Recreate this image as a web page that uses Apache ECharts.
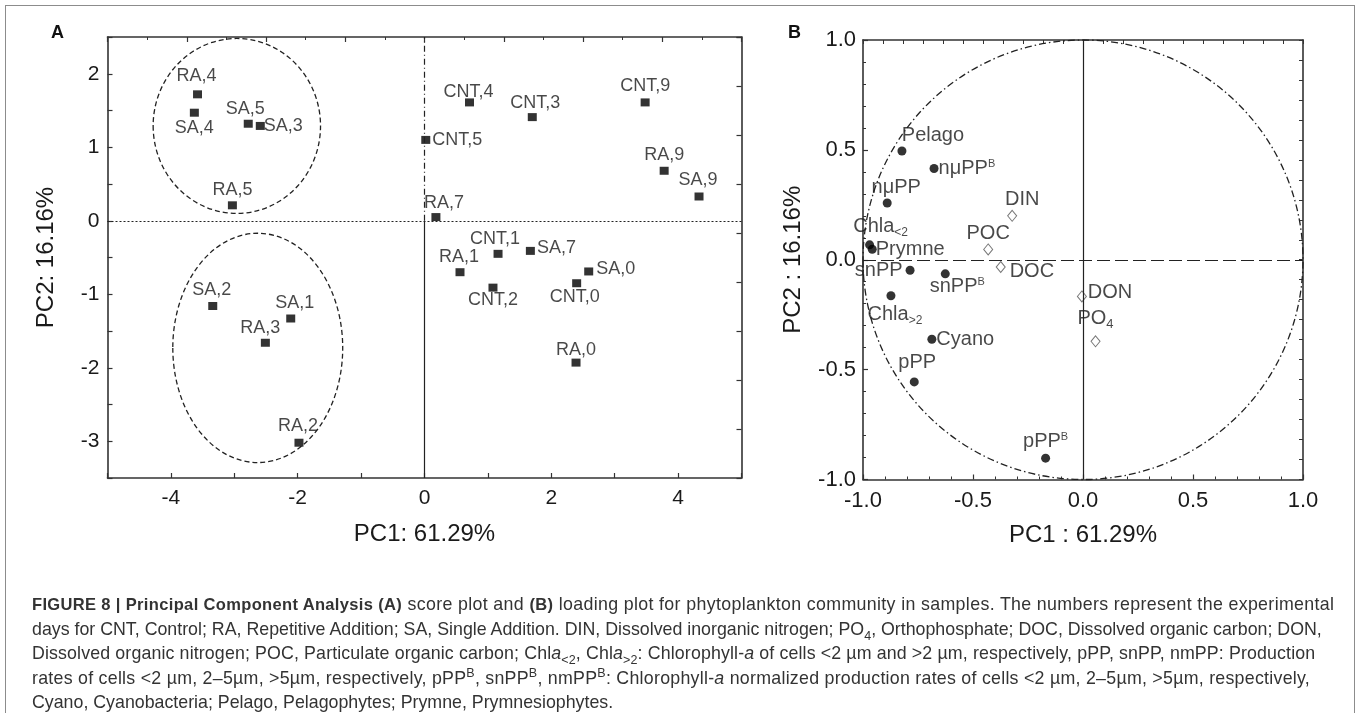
<!DOCTYPE html>
<html>
<head>
<meta charset="utf-8">
<script src="https://cdn.jsdelivr.net/npm/echarts@6/dist/echarts.min.js"></script>
<style>
  html, body { margin: 0; padding: 0; background: #fff; overflow: hidden; }
  #wrap { position: relative; width: 1360px; height: 713px; overflow: hidden; }
  #chart { position: absolute; left: 0; top: 0; width: 1360px; height: 713px; }
  #frame { position: absolute; left: 5px; top: 5px; width: 1348px; height: 730px; border: 1.5px solid #8c8c8c; }
  #caption { position: absolute; left: 32px; top: 592px; font-family: "Liberation Sans", Arial, sans-serif;
    font-size: 17.8px; line-height: 24.5px; color: #333; white-space: nowrap; }
  #caption b { font-size: 16.5px; }
  #caption .l1 { letter-spacing: 0.35px; }
  #caption .l3 { letter-spacing: 0.13px; }
  #caption .l4 { letter-spacing: 0.26px; }
  #caption sub, #caption sup { font-size: 12.5px; line-height: 0; }
</style>
</head>
<body>
<div id="wrap">
  <div id="frame"></div>
  <div id="chart"></div>
  <div id="caption">
    <div class="l1"><b>FIGURE 8 | Principal Component Analysis (A)</b> score plot and <b>(B)</b> loading plot for phytoplankton community in samples. The numbers represent the experimental</div>
    <div>days for CNT, Control; RA, Repetitive Addition; SA, Single Addition. DIN, Dissolved inorganic nitrogen; PO<sub>4</sub>, Orthophosphate; DOC, Dissolved organic carbon; DON,</div>
    <div class="l3">Dissolved organic nitrogen; POC, Particulate organic carbon; Chl<i>a</i><sub>&lt;2</sub>, Chl<i>a</i><sub>&gt;2</sub>: Chlorophyll-<i>a</i> of cells &lt;2 µm and &gt;2 µm, respectively, pPP, snPP, nmPP: Production</div>
    <div class="l4">rates of cells &lt;2 µm, 2–5µm, &gt;5µm, respectively, pPP<sup>B</sup>, snPP<sup>B</sup>, nmPP<sup>B</sup>: Chlorophyll-<i>a</i> normalized production rates of cells &lt;2 µm, 2–5µm, &gt;5µm, respectively,</div>
    <div>Cyano, Cyanobacteria; Pelago, Pelagophytes; Prymne, Prymnesiophytes.</div>
  </div>
</div>
<script>
// panel A: sample scores
var scoreNames = ['RA,4', 'SA,4', 'SA,5', 'SA,3', 'RA,5', 'CNT,4', 'CNT,3', 'CNT,9', 'CNT,5', 'RA,9', 'SA,9', 'RA,7',
  'CNT,1', 'SA,7', 'RA,1', 'CNT,2', 'SA,0', 'CNT,0', 'RA,0', 'SA,2', 'SA,1', 'RA,3', 'RA,2']
var scorePC1 = [-3.58, -3.63, -2.78, -2.59, -3.03, 0.71, 1.70, 3.48, 0.02, 3.78, 4.33, 0.18,
  1.16, 1.67, 0.56, 1.08, 2.59, 2.40, 2.39, -3.34, -2.11, -2.51, -1.98]
var scorePC2 = [1.72, 1.47, 1.32, 1.29, 0.21, 1.61, 1.41, 1.61, 1.10, 0.68, 0.33, 0.05,
  -0.45, -0.41, -0.70, -0.91, -0.69, -0.85, -1.93, -1.16, -1.33, -1.66, -3.02]

// group ellipses (centre and half-axes, in PC units)
var groupCx = [-2.96, -2.63]
var groupCy = [1.29, -1.73]
var groupRx = [1.32, 1.34]
var groupRy = [1.19, 1.56]

// panel B: variable loadings
var bioNames = ['Pelago', 'nμPP^B', 'nμPP', 'Chla_<2', 'Prymne', 'snPP', 'snPP^B', 'Chla_>2', 'Cyano', 'pPP', 'pPP^B']
var bioPC1 = [-0.823, -0.677, -0.890, -0.970, -0.958, -0.786, -0.626, -0.873, -0.687, -0.767, -0.170]
var bioPC2 = [0.495, 0.415, 0.258, 0.068, 0.048, -0.048, -0.064, -0.164, -0.362, -0.556, -0.903]
var envNames = ['DIN', 'POC', 'DOC', 'DON', 'PO_4']
var envPC1 = [-0.322, -0.431, -0.374, -0.005, 0.057]
var envPC2 = [0.200, 0.047, -0.033, -0.167, -0.371]

var scoreTicks = [-4, -2, 0, 2, 4]
var scoreYTicks = [-3, -2, -1, 0, 1, 2]

// where each point label sits: [position, dx, dy]
var labelPlace = {
  'RA,4': ['top', -1, -3], 'SA,4': ['bottom', 0, 0], 'SA,5': ['top', -3, 0], 'SA,3': ['right', -3, 0],
  'RA,5': ['top', 0, 0], 'CNT,4': ['top', -1, 5], 'CNT,3': ['top', 3, 1], 'CNT,9': ['top', 0, -1],
  'CNT,5': ['right', 0, 0], 'RA,9': ['top', 0, -1], 'SA,9': ['top', -1, -1], 'RA,7': ['top', 8, 1],
  'CNT,1': ['top', -3, 0], 'SA,7': ['right', 0, -3], 'RA,1': ['top', -1, 0], 'CNT,2': ['bottom', 0, -3],
  'SA,0': ['right', 1, -2], 'CNT,0': ['bottom', -2, -1], 'RA,0': ['top', 0, 2], 'SA,2': ['top', -1, -1],
  'SA,1': ['top', 4, 0], 'RA,3': ['top', -5, 0], 'RA,2': ['top', -1, -2],
  'Pelago': ['top', 31, 1], 'nμPP^B': ['right', -2, 0], 'nμPP': ['top', 9, 1], 'Chla_<2': ['top', 11, 0],
  'Prymne': ['right', -3, 0], 'snPP': ['left', -1, 0], 'snPP^B': ['bottom', 12, -4], 'Chla_>2': ['bottom', 4, 0],
  'Cyano': ['right', -2, 0], 'pPP': ['top', 3, -3], 'pPP^B': ['top', 0, 0],
  'DIN': ['top', 10, 2], 'POC': ['top', 0, 2], 'DOC': ['right', 2, 4], 'DON': ['right', -1, -4], 'PO_4': ['top', 0, -2]
}

var font = '"Liberation Sans", Arial, sans-serif'
var ink = '#1a1a1a'
var frame = '#333'

function points (names, xs, ys) {
  return names.map(function (n, i) {
    var p = labelPlace[n] || ['top', 0, 0]
    return { name: n, value: [xs[i], ys[i]], label: { position: p[0], offset: [p[1], p[2]] } }
  })
}

// turn "X^B" / "X_<2" into rich text
function richName (p) {
  return p.name.replace(/\^(.+)$/, '{sup|$1}').replace(/_(.+)$/, '{sub|$1}')
}

function ellipse (dash) {
  return function (params, api) {
    var c = api.coord([api.value(0), api.value(1)])
    var s = api.size([api.value(2), api.value(3)])
    var rx = s[0], ry = s[1]
    var d = 'M ' + (c[0] - rx) + ' ' + c[1] +
      ' A ' + rx + ' ' + ry + ' 0 1 0 ' + (c[0] + rx) + ' ' + c[1] +
      ' A ' + rx + ' ' + ry + ' 0 1 0 ' + (c[0] - rx) + ' ' + c[1] + ' Z'
    return { type: 'path', shape: { pathData: d }, style: { fill: 'none', stroke: '#222', lineWidth: 1.3, lineDash: dash } }
  }
}

function frameAxis (extra) {
  var base = {
    type: 'value', splitLine: { show: false },
    axisLine: { show: true, onZero: false, lineStyle: { color: frame, width: 1.6 } },
    axisTick: { show: true, inside: true, length: 5, lineStyle: { color: frame, width: 1.2 } },
    axisLabel: { show: false }
  }
  return Object.assign(base, extra)
}

var tickFontA = { fontSize: 21, color: ink, fontFamily: font }
var tickFontB = { fontSize: 22, color: ink, fontFamily: font }
var nameFont = { fontSize: 24, color: ink, fontFamily: font }

var chart = echarts.init(document.getElementById('chart'), null, { renderer: 'canvas' })
chart.setOption({
  animation: false,
  backgroundColor: 'transparent',
  textStyle: { fontFamily: font },
  grid: [
    { left: 107.5, top: 37, width: 634, height: 441 },
    { left: 863, top: 40, width: 440, height: 439.5 }
  ],
  graphic: [
    { type: 'text', left: 51, top: 24, style: { text: 'A', font: 'bold 18px ' + font, fill: '#111' } },
    { type: 'text', left: 788, top: 24, style: { text: 'B', font: 'bold 18px ' + font, fill: '#111' } }
  ],
  xAxis: [
    frameAxis({
      gridIndex: 0, min: -5, max: 5, interval: 1, position: 'bottom',
      name: 'PC1: 61.29%', nameLocation: 'middle', nameGap: 44, nameTextStyle: nameFont,
      axisLabel: Object.assign({ show: true, margin: 10, formatter: function (v) { return scoreTicks.indexOf(v) > -1 ? String(v) : '' } }, tickFontA)
    }),
    frameAxis({ gridIndex: 0, min: -5, max: 5, interval: 1.25, position: 'top',
      minorTick: { show: true, splitNumber: 2, length: 3, lineStyle: { color: frame } } }),
    frameAxis({
      gridIndex: 1, min: -1, max: 1, interval: 0.5, position: 'bottom',
      name: 'PC1 : 61.29%', nameLocation: 'middle', nameGap: 44, nameTextStyle: nameFont,
      minorTick: { show: true, splitNumber: 5, length: 3, lineStyle: { color: frame } },
      axisLabel: Object.assign({ show: true, margin: 10, formatter: function (v) { return v.toFixed(1) } }, tickFontB)
    }),
    frameAxis({ gridIndex: 1, min: -1, max: 1, interval: 1 / 11, position: 'top', axisTick: { show: true, inside: true, length: 4, lineStyle: { color: frame } } })
  ],
  yAxis: [
    frameAxis({
      gridIndex: 0, min: -3.5, max: 2.5, interval: 0.5, position: 'left',
      name: 'PC2: 16.16%', nameLocation: 'middle', nameGap: 49, nameTextStyle: nameFont,
      axisLabel: Object.assign({ show: true, margin: 8, formatter: function (v) { return scoreYTicks.indexOf(v) > -1 ? String(v) : '' } }, tickFontA)
    }),
    frameAxis({ gridIndex: 0, min: -3.5, max: 2.5, interval: 2 / 3, position: 'right' }),
    frameAxis({
      gridIndex: 1, min: -1, max: 1, interval: 0.5, position: 'left',
      name: 'PC2 : 16.16%', nameLocation: 'middle', nameGap: 58, nameTextStyle: nameFont,
      minorTick: { show: true, splitNumber: 5, length: 3, lineStyle: { color: frame } },
      axisLabel: Object.assign({ show: true, margin: 7, formatter: function (v) { return v.toFixed(1) } }, tickFontB)
    }),
    frameAxis({ gridIndex: 1, min: -1, max: 1, interval: 1 / 11, position: 'right', axisTick: { show: true, inside: true, length: 4, lineStyle: { color: frame } } })
  ],
  series: [
    {
      type: 'custom', xAxisIndex: 0, yAxisIndex: 0, silent: true, z: 1,
      renderItem: ellipse([5, 3]),
      encode: { x: 0, y: 1 },
      data: groupCx.map(function (c, i) { return [c, groupCy[i], groupRx[i], groupRy[i]] })
    },
    {
      type: 'custom', xAxisIndex: 2, yAxisIndex: 2, silent: true, z: 1,
      renderItem: ellipse([7, 3, 1.5, 3]),
      encode: { x: 0, y: 1 },
      data: [[0, 0, 1, 1]]
    },
    {
      name: 'scores', type: 'scatter', xAxisIndex: 0, yAxisIndex: 0, z: 3,
      symbol: 'rect', symbolSize: [9, 8],
      itemStyle: { color: '#000' },
      label: { show: true, distance: 2, fontSize: 18, color: ink, fontFamily: font, formatter: '{b}' },
      data: points(scoreNames, scorePC1, scorePC2),
      markLine: {
        silent: true, symbol: 'none', label: { show: false },
        lineStyle: { color: '#222', width: 1.2 },
        data: [
          [{ coord: [-5, 0], lineStyle: { type: [2, 2] } }, { coord: [5, 0] }],
          [{ coord: [0, 0], lineStyle: { type: [6, 3, 1, 3] } }, { coord: [0, 2.5] }],
          [{ coord: [0, -3.5], lineStyle: { type: 'solid' } }, { coord: [0, 0] }]
        ]
      }
    },
    {
      name: 'biological', type: 'scatter', xAxisIndex: 2, yAxisIndex: 2, z: 3,
      symbol: 'circle', symbolSize: 9,
      itemStyle: { color: '#000' },
      label: {
        show: true, distance: 2, fontSize: 20, color: ink, fontFamily: font, formatter: richName,
        rich: {
          sup: { fontSize: 11, color: ink, padding: [0, 0, 9, 0] },
          sub: { fontSize: 12, color: ink, padding: [12, 0, 0, 0] }
        }
      },
      data: points(bioNames, bioPC1, bioPC2),
      markLine: {
        silent: true, symbol: 'none', label: { show: false },
        lineStyle: { color: '#222', width: 1.2 },
        data: [
          [{ coord: [-1, 0], lineStyle: { type: [13, 5] } }, { coord: [1, 0] }],
          [{ coord: [0, -1], lineStyle: { type: 'solid' } }, { coord: [0, 1] }]
        ]
      }
    },
    {
      name: 'environmental', type: 'scatter', xAxisIndex: 2, yAxisIndex: 2, z: 3,
      symbol: 'diamond', symbolSize: [9, 11],
      itemStyle: { color: '#fff', borderColor: '#555', borderWidth: 1 },
      label: {
        show: true, distance: 2, fontSize: 20, color: ink, fontFamily: font, formatter: richName,
        rich: { sub: { fontSize: 13, color: ink, padding: [12, 0, 0, 0] } }
      },
      data: points(envNames, envPC1, envPC2)
    }
  ]
})
</script>
</body>
</html>
